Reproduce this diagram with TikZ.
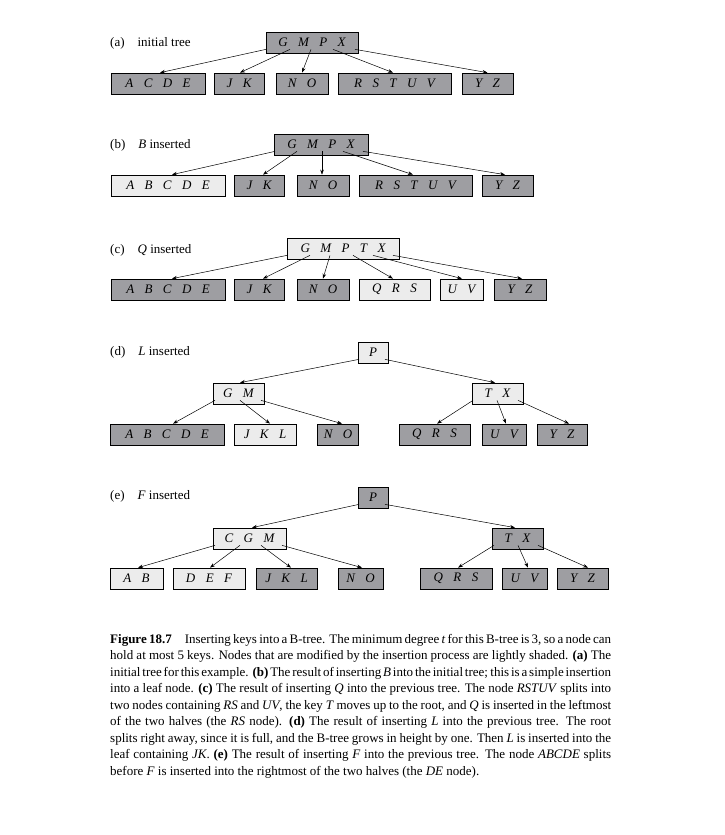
\documentclass[tikz,border=0pt]{standalone}
\usepackage{fontspec}
\setmainfont{Liberation Serif}
\usetikzlibrary{arrows.meta,calc}
\definecolor{dk}{RGB}{158,158,162}
\definecolor{lt}{RGB}{236,236,236}
\newcommand\ks{\hspace{0.8em}}
\newcommand\bptr[4]{\draw[ptr] ($(#1.south)+(#2,-4)$) -- ($(#3.north)+(#4,0)$);}
\begin{document}
\begin{tikzpicture}[x=1pt,y=-1pt,
 bnode/.style={draw=black,line width=0.7pt,minimum height=21pt,inner sep=0pt,font=\fontsize{13}{15}\selectfont\itshape},
 dark/.style={bnode,fill=dk},
 light/.style={bnode,fill=lt},
 ptr/.style={-{Stealth[length=5pt,width=3.6pt]},line width=0.5pt},
 lab/.style={anchor=west,inner sep=0pt,font=\fontsize{13}{15}\selectfont}]
\useasboundingbox (0,0) rectangle (724,835);
% (a)
\node[lab] (la) at (110,43) {(a)\hspace{1em}initial tree};
\node[dark,minimum width=92pt] (ra) at (312,42.5) {G\ks M\ks P\ks X};
\node[dark,minimum width=94pt] (a1) at (158,83.5) {A\ks C\ks D\ks E};
\node[dark,minimum width=50pt] (a2) at (239,83.5) {J\ks K};
\node[dark,minimum width=52pt] (a3) at (302,83.5) {N\ks O};
\node[dark,minimum width=113pt] (a4) at (394.5,83.5) {R\ks S\ks T\ks U\ks V};
\node[dark,minimum width=51pt] (a5) at (487.5,83.5) {Y\ks Z};
\bptr{ra}{-46}{a1}{2}
\bptr{ra}{-22}{a2}{1}
\bptr{ra}{-1}{a3}{0}
\bptr{ra}{21}{a4}{-1.5}
\bptr{ra}{43}{a5}{0}
% (b)
\node[lab] (lb) at (110,145) {(b)\hspace{1em}\textit{B} inserted};
\node[dark,minimum width=94pt] (rb) at (321,144.5) {G\ks M\ks P\ks X};
\node[light,minimum width=114pt] (b1) at (168,185.5) {A\ks B\ks C\ks D\ks E};
\node[dark,minimum width=50pt] (b2) at (259,185.5) {J\ks K};
\node[dark,minimum width=52pt] (b3) at (323,185.5) {N\ks O};
\node[dark,minimum width=113pt] (b4) at (415.5,185.5) {R\ks S\ks T\ks U\ks V};
\node[dark,minimum width=51pt] (b5) at (507.5,185.5) {Y\ks Z};
\bptr{rb}{-46}{b1}{4}
\bptr{rb}{-24}{b2}{4}
\bptr{rb}{1}{b3}{-1}
\bptr{rb}{22}{b4}{-2.5}
\bptr{rb}{42}{b5}{-2.5}
% (c)
\node[lab] (lc) at (110,250) {(c)\hspace{1em}\textit{Q} inserted};
\node[light,minimum width=112pt] (rc) at (343,248.5) {G\ks M\ks P\ks T\ks X};
\node[dark,minimum width=114pt] (c1) at (168,289.5) {A\ks B\ks C\ks D\ks E};
\node[dark,minimum width=50pt] (c2) at (259,289.5) {J\ks K};
\node[dark,minimum width=52pt] (c3) at (323,289.5) {N\ks O};
\node[light,minimum width=71pt] (c4) at (394.5,289.5) {Q\ks R\ks S};
\node[light,minimum width=43pt] (c5) at (461.5,289.5) {U\ks V};
\node[dark,minimum width=52pt] (c6) at (520,289.5) {Y\ks Z};
\bptr{rc}{-56}{c1}{4}
\bptr{rc}{-33}{c2}{4}
\bptr{rc}{-13}{c3}{0}
\bptr{rc}{10}{c4}{-1.5}
\bptr{rc}{30}{c5}{0.5}
\bptr{rc}{50}{c6}{2}
% (d)
\node[lab] (ld) at (110,352) {(d)\hspace{1em}\textit{L} inserted};
\node[light,minimum width=30pt] (rd) at (373,352.5) {P};
\node[light,minimum width=51pt] (dgm) at (238.5,393.5) {G\ks M};
\node[light,minimum width=51pt] (dtx) at (497.5,393.5) {T\ks X};
\node[dark,minimum width=114pt] (d1) at (167,434.5) {A\ks B\ks C\ks D\ks E};
\node[light,minimum width=62pt] (d2) at (265,434.5) {J\ks K\ks L};
\node[dark,minimum width=41pt] (d3) at (338,434.5) {N\ks O};
\node[dark,minimum width=71pt] (d4) at (434.5,434.5) {Q\ks R\ks S};
\node[dark,minimum width=44pt] (d5) at (504,434.5) {U\ks V};
\node[dark,minimum width=50pt] (d6) at (562,434.5) {Y\ks Z};
\bptr{rd}{-14}{dgm}{1.5}
\bptr{rd}{12}{dtx}{-2.5}
\bptr{dgm}{-23.5}{d1}{6}
\bptr{dgm}{1.5}{d2}{5}
\bptr{dgm}{22.5}{d3}{4}
\bptr{dtx}{-24.5}{d4}{2.5}
\bptr{dtx}{-0.5}{d5}{2}
\bptr{dtx}{20.5}{d6}{7}
% (e)
\node[lab] (le) at (110,496) {(e)\hspace{1em}\textit{F} inserted};
\node[dark,minimum width=30pt] (re) at (373,497.5) {P};
\node[light,minimum width=73pt] (ecgm) at (249.5,538.5) {C\ks G\ks M};
\node[dark,minimum width=51pt] (etx) at (517.5,538.5) {T\ks X};
\node[light,minimum width=53pt] (e1) at (136.5,578.5) {A\ks B};
\node[light,minimum width=72pt] (e2) at (209,578.5) {D\ks E\ks F};
\node[dark,minimum width=61pt] (e3) at (286.5,578.5) {J\ks K\ks L};
\node[dark,minimum width=45pt] (e4) at (360.5,578.5) {N\ks O};
\node[dark,minimum width=72pt] (e5) at (456,578.5) {Q\ks R\ks S};
\node[dark,minimum width=45pt] (e6) at (524.5,578.5) {U\ks V};
\node[dark,minimum width=51pt] (e7) at (582.5,578.5) {Y\ks Z};
\bptr{re}{-14}{ecgm}{2.5}
\bptr{re}{12}{etx}{-2.5}
\bptr{ecgm}{-34.5}{e1}{1.5}
\bptr{ecgm}{-9.5}{e2}{1}
\bptr{ecgm}{11.5}{e3}{4.5}
\bptr{ecgm}{32.5}{e4}{1.5}
\bptr{etx}{-23.5}{e5}{2}
\bptr{etx}{0.5}{e6}{3.5}
\bptr{etx}{20.5}{e7}{5.5}
% caption
\node[anchor=north west,inner sep=0pt,text width=501pt,align=justify,font=\fontsize{13}{16.5}\selectfont] (cap) at (110,634) {%
\hyphenpenalty=10000 \exhyphenpenalty=10000 \tolerance=9999 \emergencystretch=0pt
\spaceskip=0.25em plus 0.2em minus 0.16em
\textbf{Figure 18.7}\hspace{1em}Inserting keys into a B-tree. The minimum degree \textit{t} for this B-tree is 3, so a node can\linebreak
hold at most 5 keys. Nodes that are modified by the insertion process are lightly shaded. \textbf{(a)} The\linebreak
initial tree for this example. \textbf{(b)} The result of inserting \textit{B} into the initial tree; this is a simple insertion\linebreak
into a leaf node. \textbf{(c)} The result of inserting \textit{Q} into the previous tree. The node \textit{RSTUV} splits into\linebreak
two nodes containing \textit{RS} and \textit{UV}, the key \textit{T} moves up to the root, and \textit{Q} is inserted in the leftmost\linebreak
of the two halves (the \textit{RS} node). \textbf{(d)} The result of inserting \textit{L} into the previous tree. The root\linebreak
splits right away, since it is full, and the B-tree grows in height by one. Then \textit{L} is inserted into the\linebreak
leaf containing \textit{JK}. \textbf{(e)} The result of inserting \textit{F} into the previous tree. The node \textit{ABCDE} splits\linebreak
before \textit{F} is inserted into the rightmost of the two halves (the \textit{DE} node).};
\end{tikzpicture}
\end{document}
